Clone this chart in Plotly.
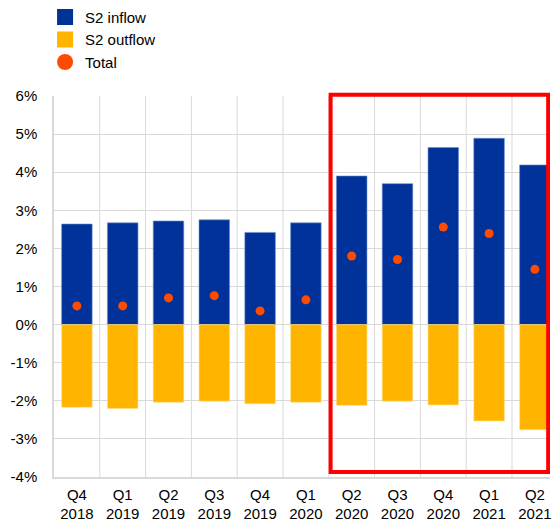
import plotly.graph_objects as go

categories = ["Q4<br>2018", "Q1<br>2019", "Q2<br>2019", "Q3<br>2019", "Q4<br>2019", "Q1<br>2020",
              "Q2<br>2020", "Q3<br>2020", "Q4<br>2020", "Q1<br>2021", "Q2<br>2021"]
inflow = [2.64, 2.67, 2.72, 2.75, 2.42, 2.67, 3.90, 3.70, 4.65, 4.89, 4.19]
outflow = [-2.17, -2.20, -2.04, -2.01, -2.08, -2.04, -2.12, -2.01, -2.11, -2.53, -2.76]
total = [0.49, 0.49, 0.70, 0.76, 0.36, 0.65, 1.80, 1.71, 2.56, 2.39, 1.45]
yticks = [-4, -3, -2, -1, 0, 1, 2, 3, 4, 5, 6]

BLUE = "#003299"
YELLOW = "#FFB400"
ORANGE = "#FF4B00"
FONT = "Liberation Sans, Arial, sans-serif"

x = list(range(len(categories)))

fig = go.Figure()
fig.add_bar(x=x, y=inflow, marker=dict(color=BLUE, line=dict(color="#6f8fcf", width=0.6)),
            showlegend=False, name="S2 inflow")
fig.add_bar(x=x, y=outflow, marker=dict(color=YELLOW, line=dict(color="#ffe08a", width=0.6)),
            showlegend=False, name="S2 outflow")
fig.add_scatter(x=x, y=total, mode="markers", marker=dict(color=ORANGE, size=9),
                showlegend=False, name="Total")
# legend proxies
fig.add_scatter(x=[None], y=[None], mode="markers", name="S2 inflow",
                marker=dict(symbol="square", color=BLUE, size=16))
fig.add_scatter(x=[None], y=[None], mode="markers", name="S2 outflow",
                marker=dict(symbol="square", color=YELLOW, size=16))
fig.add_scatter(x=[None], y=[None], mode="markers", name="Total",
                marker=dict(symbol="circle", color=ORANGE, size=16))

# highlight box around Q2 2020 - Q2 2021
fig.add_shape(type="rect", xref="x", yref="paper", x0=5.54, x1=10.29, y0=0.013, y1=1.003,
              line=dict(color="#FF0000", width=4), fillcolor="rgba(0,0,0,0)", layer="above")

fig.update_layout(
    width=552, height=525,
    margin=dict(l=54, r=0, t=96, b=48),
    plot_bgcolor="white", paper_bgcolor="white",
    font=dict(family=FONT, size=15, color="#000000"),
    barmode="relative", bargap=0.333,
    legend=dict(x=-0.018, y=1.25, xanchor="left", yanchor="top", xref="paper", yref="paper",
                font=dict(size=15), tracegroupgap=0, itemsizing="trace", bgcolor="rgba(0,0,0,0)"),
    xaxis=dict(tickmode="array", tickvals=x, ticktext=categories, range=[-0.5, 10.33],
               showgrid=False, ticks="", showline=True, linecolor="#d9d9d9", linewidth=1.5,
               tickfont=dict(size=15), fixedrange=True, tickangle=0, ticklabeloverflow="allow",
               ticklabelstandoff=3),
    yaxis=dict(range=[-4, 6], tickmode="array", tickvals=yticks,
               ticktext=[f"{v}%" for v in yticks], showgrid=True, gridcolor="#d9d9d9", gridwidth=1,
               zeroline=False, ticks="", showline=True, linecolor="#d9d9d9", linewidth=1.5,
               ticklabelstandoff=12, tickfont=dict(size=15)),
)
# vertical gridlines between categories
for i in range(len(categories)):
    fig.add_shape(type="line", xref="x", yref="paper", x0=i + 0.5, x1=i + 0.5, y0=0, y1=1,
                  line=dict(color="#d9d9d9", width=1), layer="below")

fig.write_html("out.html", config={"displayModeBar": False},
               post_script="document.body.style.margin='0';")
